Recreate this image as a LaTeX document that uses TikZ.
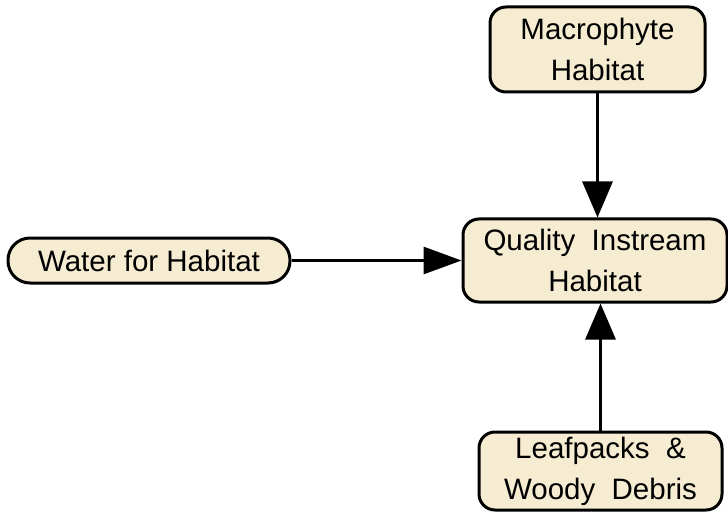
\documentclass[tikz,border=0pt]{standalone}
\usepackage{fontspec}
\setmainfont{Liberation Sans}
\usepackage{tikz}
\usetikzlibrary{arrows.meta,positioning,calc}
\definecolor{habitatfill}{RGB}{246,236,210}

\tikzset{
    habbox/.style={draw=black,line width=3pt,fill=habitatfill,rounded corners=16pt,
        align=center,inner sep=0pt,font=\fontsize{29.5}{41}\selectfont},
    habpill/.style={habbox,rounded corners=22pt},
    link/.style={line width=3pt,-{Triangle[length=36pt,width=30pt]}}
}

\begin{document}
\begin{tikzpicture}[x=1pt,y=-1pt]
    \useasboundingbox (0,0) rectangle (728,513);

    % habitat nodes
    \node[habbox,minimum width=215pt,minimum height=85pt] (macro) at (597.5,49.5) {Macrophyte\\Habitat};
    \node[habbox,minimum width=264pt,minimum height=83pt] (quality) at (595,260.5) {Quality~~Instream\\Habitat};
    \node[habpill,minimum width=282pt,minimum height=45pt] (water) at (149,260.5) {Water for Habitat};
    \node[habbox,minimum width=243pt,minimum height=78pt] (leaf) at (600.5,471) {Leafpacks~~\&\\Woody~~Debris};

    % links into quality habitat
    \draw[link] (macro.south) -- (macro.south |- quality.north);
    \draw[link,-{Triangle[length=38pt,width=27pt]}] (water.east) -- (quality.west);
    \draw[link] (leaf.north) -- (leaf.north |- quality.south);
\end{tikzpicture}
\end{document}
